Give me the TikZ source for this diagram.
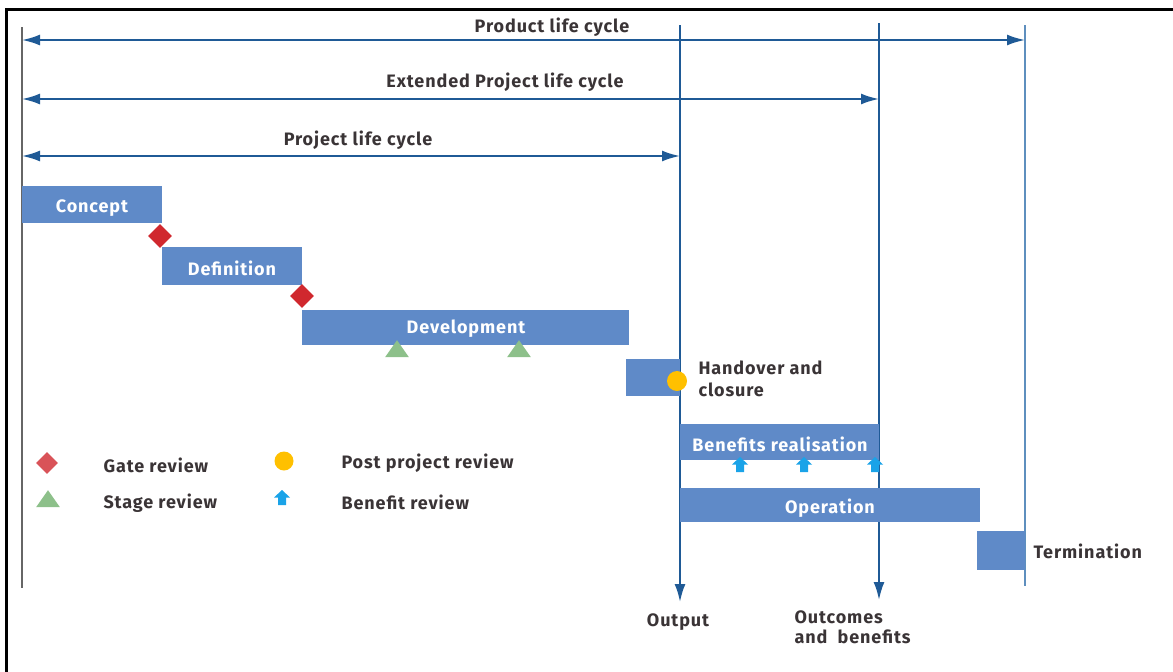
\documentclass[tikz,border=0pt]{standalone}
\usepackage{fontspec}
\setmainfont{Fira Sans}
\newfontfamily\diagfont[LetterSpace=5]{Fira Sans}
\usetikzlibrary{arrows.meta,shapes.geometric,calc}
\definecolor{phase}{HTML}{5F8AC8}
\definecolor{axis}{HTML}{1F5A96}
\definecolor{axislight}{HTML}{5E8FBE}
\definecolor{gate}{HTML}{D0282E}
\definecolor{stage}{HTML}{8DC08A}
\definecolor{post}{HTML}{FFC000}
\definecolor{benefit}{HTML}{1AA3E8}
\definecolor{txt}{HTML}{3A3436}
\tikzset{
  bar/.style={fill=phase, draw=none},
  bartext/.style={text=white, yshift=-2pt, font=\diagfont\fontsize{18}{20}\selectfont\bfseries},
  lbl/.style={text=txt, yshift=-2pt, font=\diagfont\fontsize{18}{21}\selectfont\bfseries},
  span/.style={axis, line width=2pt, {Latex[length=18pt,width=11pt]}-{Latex[length=18pt,width=11pt]}},
  mile/.style={axis, line width=2pt, -{Latex[length=18pt,width=11pt]}},
  gatemark/.style={diamond, fill=gate, inner sep=0pt, minimum size=24pt},
  stagemark/.style={isosceles triangle, isosceles triangle apex angle=70, shape border rotate=90, fill=stage, inner sep=0pt, minimum width=22pt, minimum height=17pt},
  postmark/.style={circle, fill=post, inner sep=0pt, minimum size=20pt},
}
% up-pointing block arrow used for benefit reviews
\newcommand{\benefitarrow}[1]{%
  \fill[benefit] ($#1$) ++(0,-8) -- ++(8,7.5) -- ++(-4,0) -- ++(0,7.5) -- ++(-8,0) -- ++(0,-7.5) -- ++(-4,0) -- cycle;}
\begin{document}
\begin{tikzpicture}[x=1pt,y=-1pt]
\useasboundingbox (0,0) rectangle (1173,672);
% outer frame
\draw[black, line width=3pt] (6,672) -- (6,9) -- (1173,9);
% time axis start and milestone lines
\coordinate (start top) at (22,27);
\coordinate (start bot) at (22,588);
\draw[gray!80!black, line width=2.5pt] (start top) -- (start bot);
\coordinate (out top) at (680,25);
\coordinate (out bot) at (680,602);
\coordinate (ben top) at (879,23);
\coordinate (ben bot) at (879,600);
\coordinate (end top) at (1025,25);
\coordinate (end bot) at (1025,586);
\draw[mile] (out top) -- (out bot);
\draw[mile] (ben top) -- (ben bot);
\draw[axislight, line width=2.5pt] (end top) -- (end bot);
% life cycle spans
\coordinate (p1) at (22,40);  \coordinate (p2) at (1025,40);
\coordinate (e1) at (22,99);  \coordinate (e2) at (879,99);
\coordinate (j1) at (22,156); \coordinate (j2) at (680,156);
\draw[span] (p1) -- (p2);
\draw[span] (e1) -- (e2);
\draw[span] (j1) -- (j2);
\node[lbl] (plc) at (552,25) {Product life cycle};
\node[lbl] (elc) at (505,80) {Extended Project life cycle};
\node[lbl] (jlc) at (358,138) {Project life cycle};
% phases
\fill[bar] (22,186) rectangle (162,223);
\node[bartext] (concept) at (92,206) {Concept};
\fill[bar] (162,247) rectangle (302,285);
\node[bartext] (definition) at (232,266) {Definition};
\fill[bar] (302,310) rectangle (629,345);
\node[bartext] (development) at (466,327) {Development};
\fill[bar] (626,359) rectangle (680,396);
\node[lbl, font=\diagfont\fontsize{18}{22}\selectfont\bfseries, align=left, anchor=west] (handover) at (695,377) {Handover and\\closure};
\fill[bar] (680,424) rectangle (879,460);
\node[bartext] (benefits) at (780,442) {Benefits realisation};
\fill[bar] (680,488) rectangle (980,522);
\node[bartext] (operation) at (830,506) {Operation};
\fill[bar] (977,531) rectangle (1025,570);
\node[lbl, anchor=west] (termination) at (1030,549) {Termination};
% end results
\node[lbl] (output) at (678,620) {Output};
\node[lbl, font=\diagfont\fontsize{18}{20}\selectfont\bfseries, align=left, anchor=west] (outcomes) at (791,625) {Outcomes\\and\ \ benefits};
% reviews
\node[gatemark] (g1) at (160,236) {};
\node[gatemark] (g2) at (302,296) {};
\node[stagemark] (s1) at (397,351) {};
\node[stagemark] (s2) at (519,351) {};
\node[postmark] (pp) at (677,381) {};
\benefitarrow{(740,465)}
\benefitarrow{(804,465)}
\benefitarrow{(875,465)}
% legend
\node[gatemark, minimum size=22pt, fill=gate!80!white] (lg) at (47,463) {};
\node[lbl, anchor=west] (lgt) at (100,463) {Gate review};
\node[stagemark] (ls) at (48,501) {};
\node[lbl, anchor=west] (lst) at (100,501) {Stage review};
\node[postmark, minimum size=19pt] (lp) at (284,461) {};
\node[lbl, anchor=west] (lpt) at (338,461) {Post project review};
\benefitarrow{(282,498)}
\node[lbl, anchor=west] (lbt) at (338,500) {Benefit review};
\end{tikzpicture}
\end{document}
